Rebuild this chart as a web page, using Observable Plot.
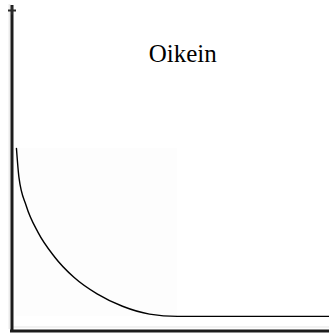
<!DOCTYPE html>
<html>
<head>
<meta charset="utf-8">
<script src="https://cdn.jsdelivr.net/npm/d3@7"></script>
<script src="https://cdn.jsdelivr.net/npm/@observablehq/plot@0.6"></script>
<style>
  html, body { margin: 0; padding: 0; background: #fff; }
  #chart svg { display: block; }
</style>
</head>
<body>
<div id="chart"></div>
<script>
// Data
const title = "Oikein";
const curveX = [0.14, 0.22, 0.45, 0.82, 1.33, 1.95, 2.68, 3.48, 4.33, 5.21, 7.0, 10.0];
const curveY = [5.61, 4.71, 3.84, 3.03, 2.29, 1.65, 1.14, 0.76, 0.52, 0.45, 0.45, 0.45];
const xDomain = [0, 10];
const yDomain = [0, 10];
const yTop = 9.85;

const points = curveX.map((x, i) => ({x, y: curveY[i]}));
const curveEndIndex = 9;
const box = [{
  x1: d3.min(curveX), x2: curveX[curveEndIndex],
  y1: d3.min(curveY), y2: d3.max(curveY)
}];

const serifStack = "'Liberation Serif', Tinos, 'Times New Roman', Times, 'DejaVu Serif', 'Noto Serif', serif";

const chart = Plot.plot({
  width: 329,
  height: 333,
  marginLeft: 11.5,
  marginRight: 0,
  marginTop: 5,
  marginBottom: 2.5,
  style: {background: "#fff", fontFamily: serifStack},
  x: {domain: xDomain, axis: null},
  y: {domain: yDomain, axis: null},
  marks: [
    Plot.rect(box, {x1: "x1", x2: "x2", y1: "y1", y2: "y2", fill: "#fdfdfd"}),
    // faint shadows next to axes
    Plot.ruleX([xDomain[0]], {stroke: "#ebebeb", strokeWidth: 2, dx: -2.5, insetTop: -1, insetBottom: 1.5}),
    Plot.ruleY([yDomain[0]], {stroke: "#eeeeee", strokeWidth: 1.5, dy: -4, insetLeft: 1.5}),
    // axes
    Plot.ruleX([xDomain[0]], {stroke: "#1c1c1c", strokeWidth: 3, insetBottom: -1.5}),
    Plot.ruleY([yDomain[0]], {stroke: "#1c1c1c", strokeWidth: 3, insetLeft: -1.5}),
    Plot.dot([{x: xDomain[0], y: yTop}], {x: "x", y: "y", symbol: "plus", r: 2.7, stroke: "#2a2a2a", strokeWidth: 2}),
    // curve
    Plot.line(points, {x: "x", y: "y", curve: "monotone-x", stroke: "#000", strokeWidth: 1.4}),
    // title
    Plot.text([title], {
      frameAnchor: "top", dx: 12, dy: 56, lineAnchor: "bottom",
      fontFamily: serifStack,
      fontSize: 25, fill: "#000"
    })
  ]
});
d3.select(chart).selectAll("text").attr("font-family", serifStack).style("font-family", serifStack);
document.getElementById("chart").appendChild(chart);
</script>
</body>
</html>
